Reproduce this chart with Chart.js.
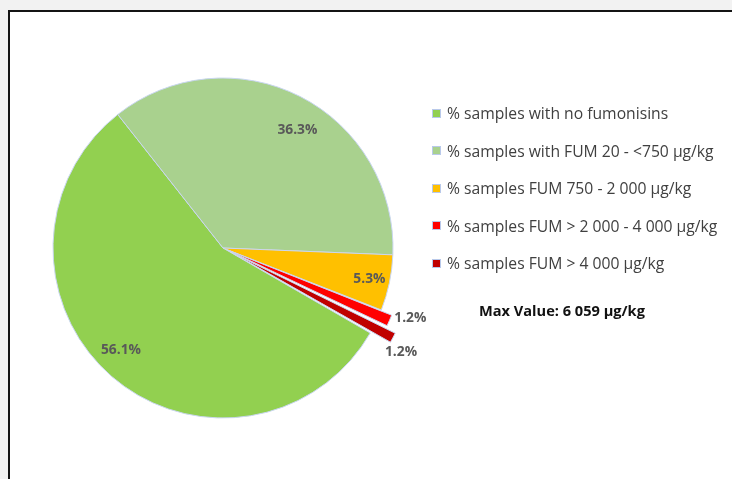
<!DOCTYPE html>
<html>
<head>
<meta charset="utf-8">
<script src="https://cdn.jsdelivr.net/npm/chart.js@4.4.1/dist/chart.umd.min.js"></script>
<style>
    html, body {
        margin: 0;
        padding: 0;
        width: 732px;
        height: 479px;
        overflow: hidden;
        background: #f2f2f2;
    }
    #frame {
        position: absolute;
        left: 8px;
        top: 10px;
        width: 740px;
        height: 480px;
        background: #ffffff;
        border-left: 2px solid #141414;
        border-top: 2px solid #141414;
    }
    #chart {
        position: absolute;
        left: 0;
        top: 0;
    }
    #legend {
        position: absolute;
        left: 432px;
        top: 0;
        font-family: "Open Sans", sans-serif;
        font-size: 15.7px;
        color: #404040;
    }
    .item {
        position: absolute;
        left: 0;
        white-space: nowrap;
        display: flex;
        align-items: center;
        height: 22px;
    }
    .box {
        width: 7px;
        height: 7px;
        border: 1px solid #b9c9ea;
        margin-right: 6px;
    }
    #maxValue {
        position: absolute;
        left: 479px;
        top: 300px;
        font-family: "Open Sans", sans-serif;
        font-weight: bold;
        font-size: 14.6px;
        color: #111;
        white-space: nowrap;
    }
</style>
</head>
<body>
<div id="frame"></div>
<canvas id="chart" width="732" height="479"></canvas>
<div id="legend"></div>
<div id="maxValue">Max Value: 6 059 µg/kg</div>

<script>
const categories = [
    "% samples with no fumonisins",
    "% samples with FUM 20 - <750 µg/kg",
    "% samples FUM 750 - 2 000 µg/kg",
    "% samples FUM > 2 000 - 4 000 µg/kg",
    "% samples FUM > 4 000 µg/kg",
];
const shares = [56.1, 36.3, 5.3, 1.2, 1.2];

const colors = ["#92d050", "#a9d18e", "#ffc000", "#ff0000", "#c00000"];
// chart.js v4 moves the rim out by about half of this
const explode = [0, 0, 0, 24, 46];

// label placement: angle as a fraction across the slice, and distance
// (<2 = fraction of radius, otherwise px outside the exploded rim)
const labelAt = [0.52, 0.54, 0.5, -0.2, 1.05];
const labelDist = [0.85, 0.82, 0.88, 18, 13];

const sliceLabels = {
    id: "sliceLabels",
    afterDatasetsDraw(chart) {
        const ctx = chart.ctx;
        const meta = chart.getDatasetMeta(0);
        ctx.save();
        ctx.font = "bold 13.8px 'Open Sans', sans-serif";
        ctx.fillStyle = "#595959";
        ctx.textAlign = "center";
        ctx.textBaseline = "middle";
        meta.data.forEach((arc, i) => {
            const p = arc.getProps(["x", "y", "startAngle", "endAngle", "outerRadius"], true);
            const a = p.startAngle + (p.endAngle - p.startAngle) * labelAt[i];
            const rim = explode[i] / 2;
            const d = labelDist[i] < 2
                ? p.outerRadius * labelDist[i] + rim
                : p.outerRadius + rim + labelDist[i];
            ctx.fillText(shares[i].toFixed(1) + "%", p.x + Math.cos(a) * d, p.y + Math.sin(a) * d);
        });
        ctx.restore();
    },
};

const ctx = document.getElementById("chart").getContext("2d");

new Chart(ctx, {
    type: "pie",
    data: {
        labels: categories,
        datasets: [
            {
                data: shares,
                backgroundColor: colors,
                borderColor: "#c9d6f0",
                borderWidth: 1,
                offset: explode,
            },
        ],
    },
    options: {
        responsive: false,
        animation: false,
        rotation: 120,
        radius: 170,
        layout: {
            padding: { left: 0, right: 286, top: 17, bottom: 0 },
        },
        plugins: {
            legend: { display: false },
            tooltip: { enabled: false },
        },
    },
    plugins: [sliceLabels],
});

// legend built from the same arrays
const legend = document.getElementById("legend");
categories.forEach((name, i) => {
    const row = document.createElement("div");
    row.className = "item";
    row.style.top = (113 + i * 37.5 - 11) + "px";
    const box = document.createElement("span");
    box.className = "box";
    box.style.background = colors[i];
    const text = document.createElement("span");
    text.innerText = name;
    row.appendChild(box);
    row.appendChild(text);
    legend.appendChild(row);
});
</script>
</body>
</html>
